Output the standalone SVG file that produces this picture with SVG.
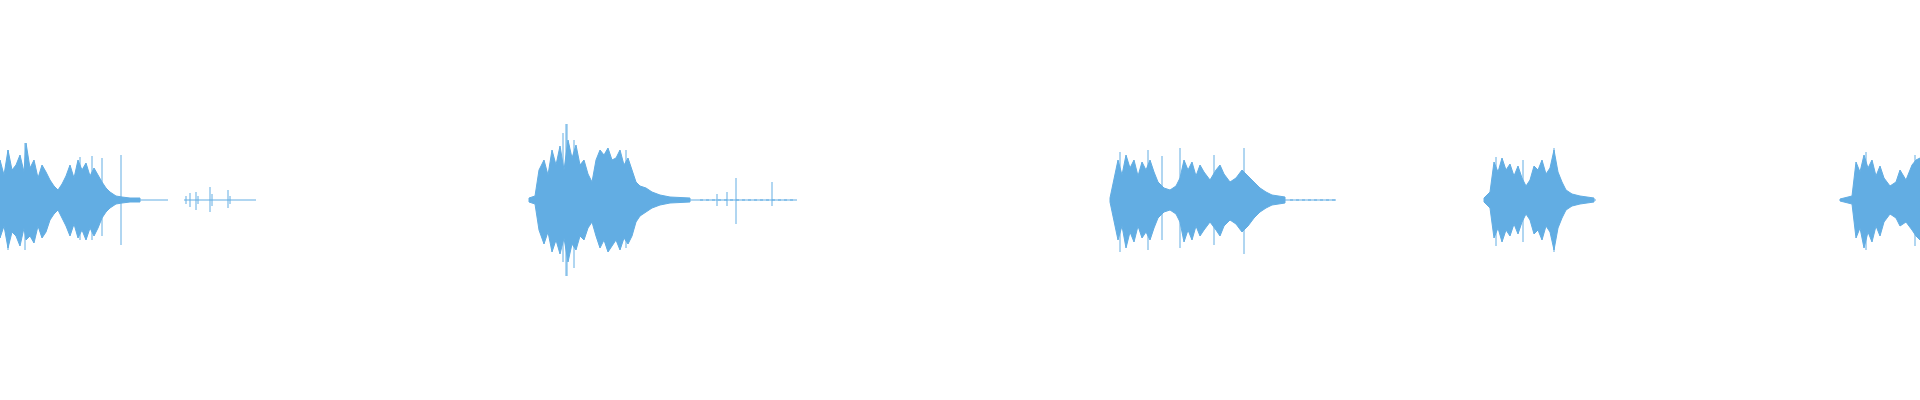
<svg xmlns="http://www.w3.org/2000/svg" width="1920" height="400" viewBox="0 0 1920 400">
<style>
.w{fill:#62ade3;stroke:#62ade3;stroke-width:1}
.l{stroke:#62ade3;stroke-width:1;fill:none}
</style>
<rect width="1920" height="400" fill="#fff"/>
<g id="waveform">
<path class="l" d="M0 200H168 M184 200H256 M529 200H797 M1110 200H1336 M1484 200H1596 M1840 200H1920"/>
<path class="l" stroke-dasharray="3 3" d="M700 200H796 M1290 200H1336"/>
<polygon class="w" points="0,160 4,175 8,150 12,170 16,165 20,155 24,172 26,143 30,168 34,160 38,178 42,165 46,172 50,180 54,186 58,190 62,184 66,176 70,165 74,178 78,160 82,170 86,163 90,176 94,168 98,175 102,182 106,188 110,192 116,196 122,197 130,198 140,198 140,202 130,202 122,203 116,204 110,208 106,212 102,218 98,228 94,236 90,228 86,240 82,230 78,238 74,224 70,236 66,226 62,218 58,210 54,214 50,220 46,232 42,238 38,226 34,243 30,236 26,240 24,228 20,246 16,236 12,232 8,248 4,226 0,238"/>
<path class="l" d="M25 143V250 M92 156V240 M121 155V245 M102 158V236 M80 157V240 M8 150V250"/>
<path class="l" d="M186 196V204 M190 193V207 M196 192V210 M198 196V204 M210 187V212 M212 194V206 M228 190V208 M230 196V204"/>
<polygon class="w" points="529,198 535,196 539,170 544,160 548,175 552,150 556,165 560,146 564,170 568,140 572,158 576,145 580,165 584,160 588,174 592,182 596,160 600,150 604,155 608,148 612,160 616,158 620,150 624,165 628,158 632,170 636,182 640,186 646,188 652,192 660,195 670,197 690,198 690,202 670,203 660,205 652,208 646,212 640,216 636,222 632,236 628,244 624,238 620,250 616,240 612,246 608,252 604,240 600,248 596,236 592,222 588,228 584,240 580,236 576,250 572,244 568,262 564,238 560,254 556,240 552,252 548,232 544,244 539,230 535,204 529,202"/>
<path class="l" d="M567 124V276 M563 133V262 M574 140V268 M626 150V248 M736 178V224 M772 182V206 M717 194V206 M727 192V206 M566 124V276"/>
<polygon class="w" points="1110,198 1118,160 1122,175 1126,155 1130,168 1134,160 1138,176 1142,162 1146,170 1150,160 1154,172 1158,182 1164,188 1170,190 1176,186 1180,178 1184,160 1188,170 1192,162 1196,176 1200,165 1204,172 1210,180 1216,170 1220,165 1224,174 1230,182 1236,178 1242,170 1248,176 1254,182 1260,188 1266,192 1272,195 1285,197 1285,203 1272,205 1266,208 1260,212 1254,218 1248,226 1242,232 1236,224 1230,220 1224,226 1220,236 1216,230 1210,222 1204,230 1200,236 1196,226 1192,240 1188,230 1184,242 1180,222 1176,214 1170,210 1164,212 1158,218 1154,228 1150,240 1146,232 1142,238 1138,226 1134,242 1130,232 1126,248 1122,226 1118,240 1110,202"/>
<path class="l" d="M1120 152V252 M1148 150V250 M1180 148V248 M1214 155V245 M1244 148V254 M1162 156V240"/>
<polygon class="w" points="1484,198 1490,192 1494,162 1498,172 1502,158 1506,170 1510,164 1514,176 1518,166 1522,178 1526,186 1530,180 1534,166 1538,170 1542,160 1546,174 1550,168 1554,150 1558,172 1562,182 1566,190 1572,194 1580,196 1594,198 1594,202 1580,204 1572,206 1566,210 1562,218 1558,228 1554,250 1550,232 1546,226 1542,240 1538,230 1534,234 1530,220 1526,214 1522,222 1518,234 1514,224 1510,236 1506,230 1502,242 1498,228 1494,238 1490,208 1484,202"/>
<path class="l" d="M1496 157V246 M1554 148V252 M1523 160V242"/>
<polygon class="w" points="1840,199 1852,196 1856,162 1860,172 1864,155 1868,168 1872,160 1876,176 1880,166 1884,178 1890,186 1896,182 1900,170 1906,180 1912,165 1916,160 1920,158 1920,240 1916,236 1912,230 1906,222 1900,226 1896,218 1890,214 1884,222 1880,236 1876,226 1872,242 1868,232 1864,248 1860,228 1856,238 1852,204 1840,201"/>
<path class="l" d="M1866 152V250 M1915 155V246"/>
</g>
</svg>
